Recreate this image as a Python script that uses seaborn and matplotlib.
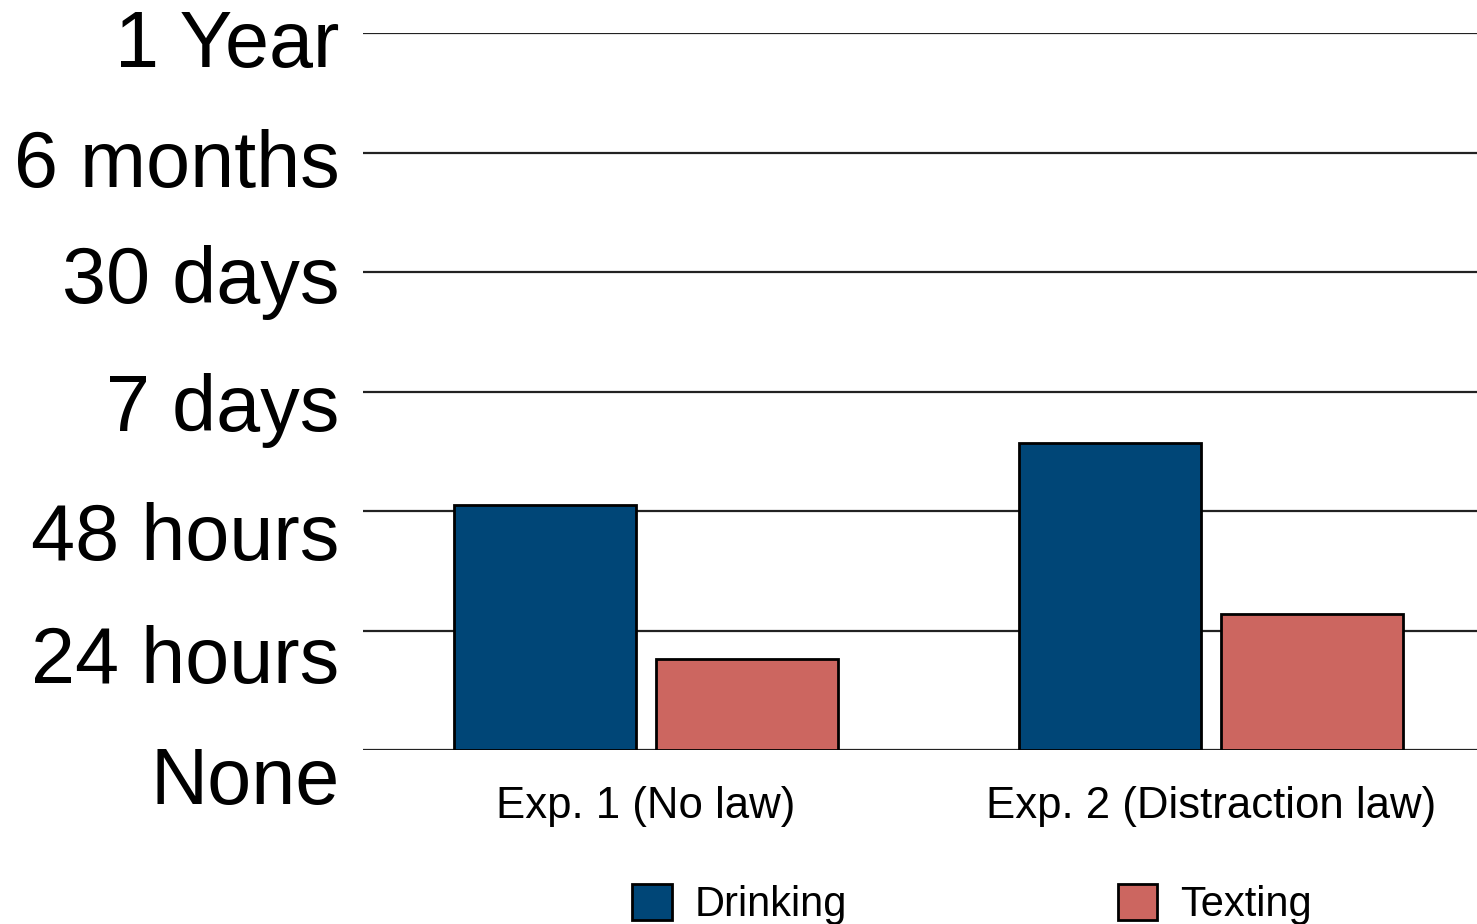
import pandas as pd
import matplotlib
matplotlib.use('Agg')
import matplotlib.pyplot as plt
import matplotlib.transforms as mtransforms
import seaborn as sns

# data
experiments = ['Exp. 1 (No law)', 'Exp. 2 (Distraction law)']
behaviours = ['Drinking', 'Texting']
drinking = [2.05, 2.57]
texting = [0.76, 1.14]
y_ticks = [0, 1, 2, 3, 4, 5, 6]
y_labels = ['None', '24 hours', '48 hours', '7 days', '30 days', '6 months', '1 Year']

df = pd.DataFrame({
    'experiment': experiments * 2,
    'behaviour': ['Drinking'] * 2 + ['Texting'] * 2,
    'value': drinking + texting,
})

sns.set_theme(style='white')
plt.rcParams['font.family'] = ['Liberation Sans', 'DejaVu Sans']
plt.rcParams['text.color'] = 'black'
plt.rcParams['xtick.color'] = 'black'
plt.rcParams['ytick.color'] = 'black'

fig = plt.figure(figsize=(14.77, 9.24), dpi=100)
ax = fig.add_axes([363 / 1477, 1 - 750 / 924, 1 - 363 / 1477, (750 - 33) / 924])

sns.barplot(data=df, x='experiment', y='value', hue='behaviour',
            hue_order=behaviours, palette=['#004677', '#cc6660'],
            width=0.714, gap=0.1, edgecolor='black', linewidth=2,
            saturation=1, ax=ax, legend=True, zorder=3)

ax.set_ylim(0, 6)
ax.set_xlim(-0.5, 1.47)
ax.set_yticks(y_ticks)
ax.set_yticklabels(y_labels, fontsize=57)
ax.tick_params(axis='y', length=0, pad=17)
ax.tick_params(axis='x', length=0, pad=26, labelsize=31.5)
ax.yaxis.grid(True, color='#222222', linewidth=1.6, zorder=0)
ax.set_axisbelow(True)
for s in ax.spines.values():
    s.set_visible(False)
ax.set_xlabel('')
ax.set_ylabel('')

# the tick labels in the original sit a little below their gridlines
label_drop = [25, 23, 20, 10, 2, 5, 5]
for lab, d in zip(ax.get_yticklabels(), label_drop):
    lab.set_transform(lab.get_transform() +
                      mtransforms.ScaledTranslation(0, -d / 100, fig.dpi_scale_trans))

handles, labels = ax.get_legend_handles_labels()
ax.get_legend().remove()
fig.legend(handles, labels, loc='upper left',
           bbox_to_anchor=(632 / 1477, 1 - 884 / 924), ncol=2,
           frameon=False, fontsize=30, borderpad=0, borderaxespad=0,
           handlelength=0.95, handleheight=0.95, handletextpad=0.55,
           columnspacing=6.5)

fig.savefig('out.png', dpi=100)
